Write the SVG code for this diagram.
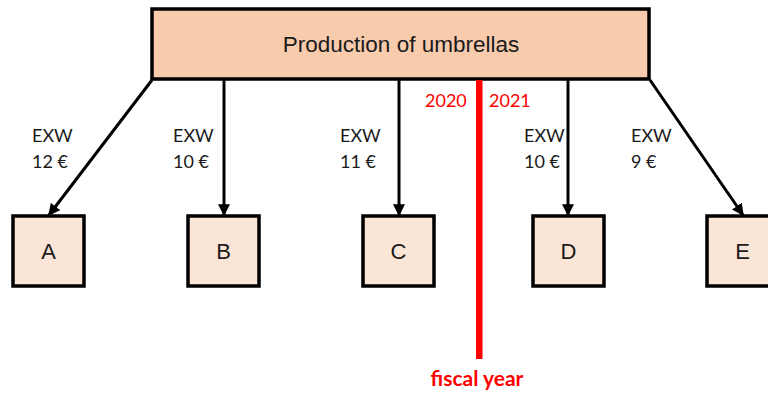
<svg xmlns="http://www.w3.org/2000/svg" width="768" height="394" viewBox="0 0 768 394">
<style>
.box{fill:#FBE5D6;stroke:#000;stroke-width:3.5}
.lbl{font-family:"Liberation Sans",Arial,sans-serif;font-size:22px;fill:#1a1a1a;text-anchor:middle}
.exw{font-family:Lato,"Open Sans",sans-serif;font-size:18px;fill:#1a1a1a}
.red{font-family:Lato,"Open Sans",sans-serif;font-size:18px;fill:#FF0000}
.conn{stroke:#000;stroke-width:3;fill:none;marker-end:url(#ah)}
</style>
<defs>
<marker id="ah" viewBox="0 0 10 10" refX="9" refY="5" markerWidth="4" markerHeight="4" orient="auto" markerUnits="strokeWidth">
<path d="M0,0 L10,5 L0,10 Z" fill="#000"/>
</marker>
</defs>
<rect width="768" height="394" fill="#fff"/>
<g id="connectors">
<line class="conn" x1="152" y1="80" x2="49" y2="215"/>
<line class="conn" x1="224" y1="80" x2="224" y2="215"/>
<line class="conn" x1="399" y1="80" x2="399" y2="215"/>
<line class="conn" x1="568" y1="80" x2="568" y2="215"/>
<line class="conn" x1="650" y1="80" x2="743" y2="215"/>
</g>
<g id="production">
<rect x="152" y="9" width="497" height="70" fill="#F8CBAD" stroke="#000" stroke-width="3.5"/>
<text class="lbl" x="401" y="52" style="font-size:22.5px">Production of umbrellas</text>
</g>
<g id="fiscal-year">
<rect x="476" y="80" width="6.5" height="279" fill="#FF0000"/>
<text class="red" x="425" y="107">2020</text>
<text class="red" x="489" y="107">2021</text>
<text class="red" x="477" y="386" text-anchor="middle" font-weight="bold" style="font-size:21px">fiscal year</text>
</g>
<g id="label-a"><text class="exw" x="32" y="142">EXW</text><text class="exw" x="32" y="168">12 €</text></g>
<g id="label-b"><text class="exw" x="173" y="142">EXW</text><text class="exw" x="173" y="168">10 €</text></g>
<g id="label-c"><text class="exw" x="340" y="142">EXW</text><text class="exw" x="340" y="168">11 €</text></g>
<g id="label-d"><text class="exw" x="524" y="142">EXW</text><text class="exw" x="524" y="168">10 €</text></g>
<g id="label-e"><text class="exw" x="631" y="142">EXW</text><text class="exw" x="631" y="168">9 €</text></g>
<g id="node-a"><rect class="box" x="13" y="216" width="71" height="70"/><text class="lbl" x="48.5" y="259">A</text></g>
<g id="node-b"><rect class="box" x="188" y="216" width="71" height="70"/><text class="lbl" x="223.5" y="259">B</text></g>
<g id="node-c"><rect class="box" x="363" y="216" width="71" height="70"/><text class="lbl" x="398.5" y="259">C</text></g>
<g id="node-d"><rect class="box" x="533" y="216" width="71" height="70"/><text class="lbl" x="568.5" y="259">D</text></g>
<g id="node-e"><rect class="box" x="707" y="216" width="71" height="70"/><text class="lbl" x="742.5" y="259">E</text></g>
</svg>
